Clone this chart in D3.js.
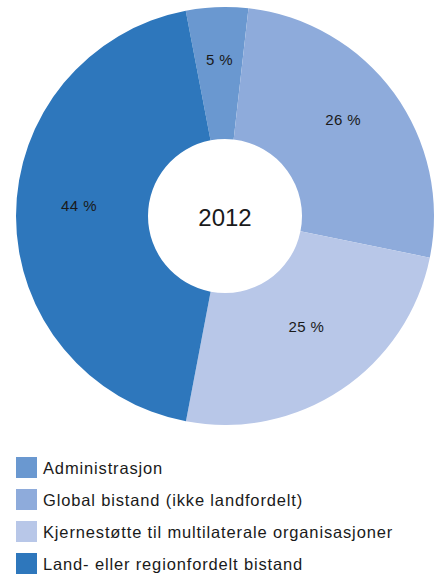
<!DOCTYPE html>
<html>
<head>
<meta charset="utf-8">
<script src="https://cdn.jsdelivr.net/npm/d3@7"></script>
<style>
  body { margin: 0; background: #fff; }
  text { font-family: "Liberation Sans", Arial, sans-serif; fill: #1a1a1a; }
</style>
</head>
<body>
<div id="chart"></div>
<script>
// Data (share of total, percent)
var categories = [
    "Administrasjon",
    "Global bistand (ikke landfordelt)",
    "Kjernestøtte til multilaterale organisasjoner",
    "Land- eller regionfordelt bistand"
];
var shares = [4.8, 26.4, 24.8, 44.0];
var colors = ["#6a98d0", "#8eabdb", "#b8c7e8", "#2e77bc"];
var centerLabel = "2012";

var width = 435;
var height = 575;

var cx = 225;
var cy = 216;
var outerRadius = 209;
var innerRadius = 77;
var labelRadius = 146;

// Create the SVG container.
const svg = d3.create("svg")
    .attr("width", width)
    .attr("height", height);

var pie = d3.pie()
    .sort(null)
    .startAngle(-0.189)
    .endAngle(-0.189 + 2 * Math.PI)
    .value(function(d) { return d; });

var arc = d3.arc()
    .innerRadius(innerRadius)
    .outerRadius(outerRadius);

var labelArc = d3.arc()
    .innerRadius(labelRadius)
    .outerRadius(labelRadius);

var arcs = pie(shares);

const g = svg.append("g")
    .attr("transform", `translate(${cx},${cy})`);

//Add the slices
g.selectAll("path")
    .data(arcs)
    .join("path")
    .attr("d", arc)
    .attr("fill", function(d, i) { return colors[i]; });

//Add the percentage labels (sit a little above the centroid, like the original)
g.selectAll("text.pct")
    .data(arcs)
    .join("text")
    .attr("class", "pct")
    .attr("transform", function(d) {
        var c = labelArc.centroid(d);
        return `translate(${c[0]},${c[1] - 10})`;
    })
    .attr("text-anchor", "middle")
    .attr("dy", "0.35em")
    .style("font-size", "15px")
    .style("letter-spacing", "0.4px")
    .text(function(d) { return Math.round(d.data) + " %"; });

//Year in the hole
g.append("text")
    .attr("text-anchor", "middle")
    .attr("y", 10)
    .style("font-size", "24px")
    .text(centerLabel);

//Legend
var legend = d3.scaleBand()
    .domain(categories)
    .range([452, 580])
    .paddingInner(0);

const lg = svg.append("g");

lg.selectAll("rect")
    .data(categories)
    .join("rect")
    .attr("x", 16)
    .attr("y", function(d) { return legend(d) + 5; })
    .attr("width", 21)
    .attr("height", 21)
    .attr("fill", function(d, i) { return colors[i]; });

lg.selectAll("text")
    .data(categories)
    .join("text")
    .attr("x", 43)
    .attr("y", function(d) { return legend(d) + 22; })
    .style("font-size", "16.5px")
    .style("letter-spacing", "0.85px")
    .text(function(d) { return d; });

//Add the svg to the actual container
d3.select(document.getElementById("chart").appendChild(svg.node()));
</script>
</body>
</html>
